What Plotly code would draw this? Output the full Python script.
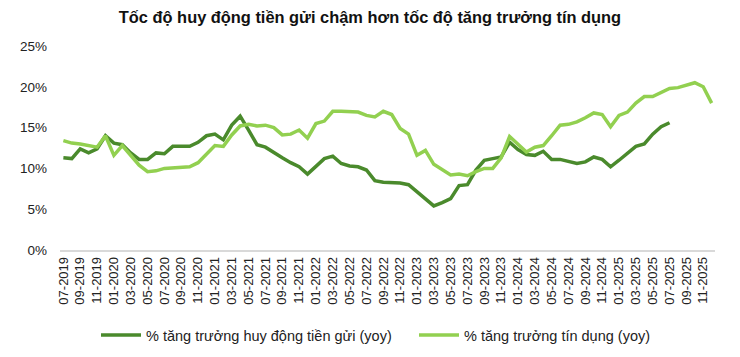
import plotly.graph_objects as go

months = [f"{m:02d}-{y}" for y in range(2019, 2026) for m in range(1, 13)]
months = months[months.index("07-2019"):months.index("12-2025") + 1]

deposit = [11.3, 11.2, 12.4, 11.9, 12.4, 14.0, 13.1, 12.9, 11.9, 11.1,
           11.1, 11.9, 11.8, 12.7, 12.7, 12.7, 13.2, 14.0, 14.2, 13.5,
           15.3, 16.4, 14.7, 12.9, 12.6, 11.9, 11.3, 10.7, 10.2, 9.3,
           10.2, 11.2, 11.5, 10.6, 10.3, 10.2, 9.8, 8.5, 8.3, 8.3,
           8.2, 8.0, 7.1, 6.3, 5.4, 5.8, 6.3, 7.9, 8.0, 9.8,
           11.0, 11.2, 11.4, 13.2, 12.3, 11.7, 11.6, 12.1, 11.1, 11.1,
           10.8, 10.6, 10.8, 11.4, 11.1, 10.2, 11.0, 11.9, 12.7, 13.0,
           14.2, 15.1, 15.6]
credit = [13.4, 13.1, 13.0, 12.8, 12.6, 14.0, 11.6, 12.8, 11.6, 10.4,
          9.6, 9.7, 10.0, 10.1, 10.2, 10.2, 10.7, 11.8, 12.8, 12.7,
          14.1, 15.2, 15.4, 15.2, 15.3, 15.0, 14.1, 14.2, 14.7, 13.7,
          15.5, 15.8, 17.0, 17.0, 17.0, 16.9, 16.5, 16.3, 17.0, 16.6,
          14.9, 14.2, 11.6, 12.2, 10.5, 9.8, 9.2, 9.3, 9.1, 9.6,
          10.0, 10.0, 11.3, 13.9, 12.9, 12.0, 12.6, 12.8, 14.0, 15.3,
          15.4, 15.7, 16.2, 16.8, 16.6, 15.1, 16.5, 16.9, 18.0, 18.8,
          18.8, 19.3, 19.8, 19.9, 20.2, 20.5, 20.0, 18.0]

tick_labels = months[::2][:39]
y_ticks = [0, 5, 10, 15, 20, 25]
y_labels = [f"{v}%" for v in y_ticks]

names = ["% tăng trưởng huy động tiền gửi (yoy)", "% tăng trưởng tín dụng (yoy)"]
colors = ["#4a8a2c", "#92d050"]

fig = go.Figure()
fig.add_trace(go.Scatter(x=list(range(len(deposit))), y=deposit, mode="lines",
                         name=names[0], line=dict(color=colors[0], width=3.5),
                         legend="legend"))
fig.add_trace(go.Scatter(x=list(range(len(credit))), y=credit, mode="lines",
                         name=names[1], line=dict(color=colors[1], width=3.5),
                         legend="legend2"))

font = "Liberation Sans, Arial, sans-serif"
leg_common = dict(orientation="h", xanchor="left", yanchor="middle",
                  xref="container", yref="container", y=1 - 335 / 357,
                  font=dict(size=14.5, color="#222"), itemwidth=40,
                  bgcolor="rgba(0,0,0,0)")
fig.update_layout(
    width=740, height=357,
    margin=dict(l=60, r=25, t=46, b=107, autoexpand=False),
    paper_bgcolor="white", plot_bgcolor="white",
    font=dict(family=font, size=13, color="#222"),
    title=dict(text="<b>Tốc độ huy động tiền gửi chậm hơn tốc độ tăng trưởng tín dụng</b>",
               x=0.5, xanchor="center", xref="container", y=1 - 17 / 357,
               yanchor="middle", yref="container", font=dict(size=16.4, color="#111")),
    showlegend=True,
    legend=dict(x=96 / 740, **leg_common),
    legend2=dict(x=414 / 740, **leg_common),
    xaxis=dict(range=[-0.4, 77.4], tickmode="array",
               tickvals=list(range(0, 78, 2))[:39], ticktext=tick_labels,
               tickangle=-90, tickfont=dict(size=13), showgrid=False,
               showline=True, linecolor="#d9d9d9", linewidth=1.5, zeroline=False,
               ticks="", automargin=False),
    yaxis=dict(range=[0, 25], tickmode="array", tickvals=y_ticks, ticktext=y_labels,
               showgrid=False, zeroline=False, showline=False, ticks="",
               tickfont=dict(size=13.5), ticklabelstandoff=12, automargin=False),
)

fig.write_html("out.html", config={"displayModeBar": False},
               post_script="document.body.style.margin='0';")
